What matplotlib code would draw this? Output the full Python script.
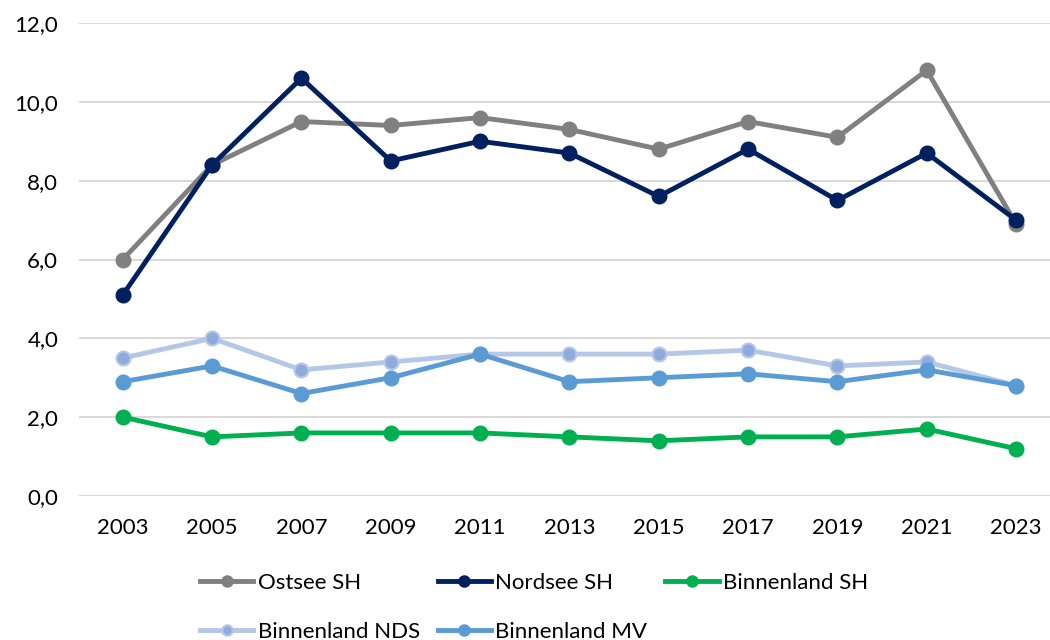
import matplotlib
matplotlib.use("Agg")
import matplotlib.pyplot as plt

years = ["2003", "2005", "2007", "2009", "2011", "2013", "2015", "2017", "2019", "2021", "2023"]
ostsee_sh = [6.0, 8.4, 9.5, 9.4, 9.6, 9.3, 8.8, 9.5, 9.1, 10.8, 6.9]
nordsee_sh = [5.1, 8.4, 10.6, 8.5, 9.0, 8.7, 7.6, 8.8, 7.5, 8.7, 7.0]
binnenland_sh = [2.0, 1.5, 1.6, 1.6, 1.6, 1.5, 1.4, 1.5, 1.5, 1.7, 1.2]
binnenland_nds = [3.5, 4.0, 3.2, 3.4, 3.6, 3.6, 3.6, 3.7, 3.3, 3.4, 2.8]
binnenland_mv = [2.9, 3.3, 2.6, 3.0, 3.6, 2.9, 3.0, 3.1, 2.9, 3.2, 2.8]
y_ticks = [0, 2, 4, 6, 8, 10, 12]

plt.rcParams['font.family'] = ['Lato', 'DejaVu Sans']

fig = plt.figure(figsize=(10.5, 6.4), dpi=100)
ax = fig.add_axes([79/1050, 144/640, 1 - 79/1050, (496-23)/640])

x = list(range(len(years)))
series = [
    ("Ostsee SH", ostsee_sh, "#808080", "#808080", "#808080"),
    ("Nordsee SH", nordsee_sh, "#002060", "#002060", "#002060"),
    ("Binnenland SH", binnenland_sh, "#00B050", "#00B050", "#00B050"),
    ("Binnenland NDS", binnenland_nds, "#B4C7E7", "#8FAADC", "#B4C7E7"),
    ("Binnenland MV", binnenland_mv, "#5B9BD5", "#5B9BD5", "#5B9BD5"),
]
handles = []
for i, (name, vals, lc, mfc, mec) in enumerate(series):
    h, = ax.plot(x, vals, color=lc, lw=3.5, marker="o", markersize=10,
                 markerfacecolor=mfc, markeredgecolor=mec, markeredgewidth=1.5,
                 label=name, zorder=3 + i, solid_joinstyle="round")
    handles.append(h)

ax.set_xlim(-0.49, 10.38)
ax.set_ylim(0, 12)
ax.set_yticks(y_ticks)
ax.set_yticklabels([f"{v:.1f}".replace(".", ",") for v in y_ticks])
ax.set_xticks(x)
ax.set_xticklabels(years)
ax.tick_params(axis="both", length=0, labelsize=16, colors="#000000")
ax.tick_params(axis="x", pad=16)
ax.tick_params(axis="y", pad=15)
ax.grid(axis="y", color="#D9D9D9", lw=1.5, zorder=0)
ax.set_axisbelow(True)
for s in ax.spines.values():
    s.set_visible(False)

order = [0, 3, 1, 4, 2]
leg = fig.legend([handles[i] for i in order], [series[i][0] for i in order],
                 ncol=3, loc="upper left", bbox_to_anchor=(200/1050, 1 - 573/640),
                 frameon=False, fontsize=16, handlelength=2.4, handletextpad=0.2,
                 columnspacing=0.8, labelspacing=1.3, borderaxespad=0, borderpad=0,
                 markerscale=0.75)

fig.savefig("out.png", dpi=100)
